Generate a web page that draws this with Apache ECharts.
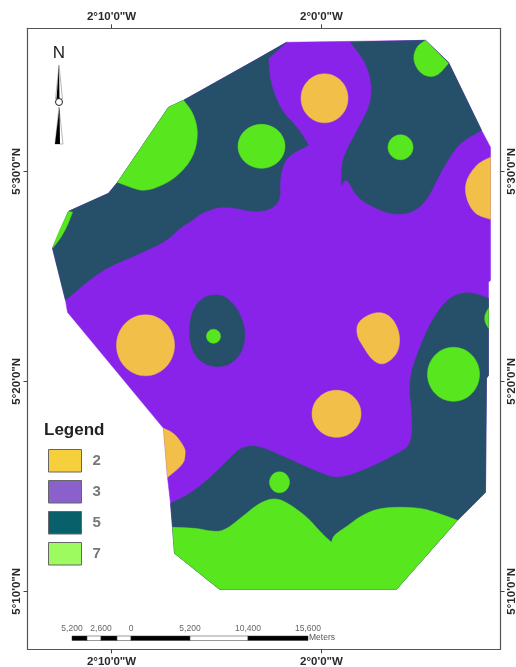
<!DOCTYPE html>
<html>
<head>
<meta charset="utf-8">
<style>html,body{margin:0;padding:0;background:#fff}#c{width:516px;height:667px;filter:blur(0.35px)}</style>
<script src="https://cdn.jsdelivr.net/npm/echarts@6/dist/echarts.min.js"></script>
</head>
<body>
<div id="c"></div>
<script>
// Map units: 21 units = 1 arc-minute, origin at 2°0'0"W, 5°20'0"N (east / north positive)
const lonTicks = [-210, 0];
const lonLabels = ['2°10\'0"W', '2°0\'0"W'];
const latTicks = [-210, 0, 210];
const latLabels = ['5°10\'0"N', '5°20\'0"N', '5°30\'0"N'];
const classNames = ['2', '3', '5', '7'];
const legendColors = ['#F6CF3C', '#8A60CC', '#08606B', '#9DFB60'];
const mapColors = { '2': '#F2BF48', '3': '#8A23EA', '5': '#265069', '7': '#58E61E' };

const class3Polys = [
  [[-35,339],[104,341],[127,319],[160,251],[169,234],[169,101],[167,99],[167,6],[165,3],[164,-111],[136,-139],[75,-208],[-102,-208],[-147,-172],[-149,-146],[-151,-122],[-154,-96],[-158,-47],[-254,69],[-256,81],[-269,133],[-253,170],[-213,188],[-204,199],[-153,274],[-138,281],[-63,323]]
];
const class5Polys = [
  [[-256,81],[-269,133],[-253,170],[-213,188],[-204,199],[-153,274],[-138,281],[-63,323],[-35,339],[-53,323],[-52,301],[-41,271],[-23,253],[-13,236],[-35,225],[-42,204],[-41,177],[-63,168],[-98,176],[-121,168],[-129,161],[-141,154],[-154,141],[-181,128],[-221,111]],
  [[29,339],[45,318],[51,294],[48,274],[34,248],[20,221],[20,196],[25,204],[36,183],[54,173],[70,167],[90,168],[105,180],[120,211],[137,238],[160,251],[127,319],[104,341]],
  [[-151,-122],[-134,-114],[-114,-99],[-94,-79],[-81,-66],[-63,-64],[-30,-79],[-3,-91],[17,-98],[47,-87],[77,-72],[90,-63],[91,-36],[87,1],[97,31],[110,61],[127,84],[147,90],[167,83],[167,6],[165,3],[164,-111],[136,-139],[75,-208],[-102,-208],[-147,-172],[-149,-146]],
  [[-108,87],[-96,85],[-85,74],[-78,59],[-76,44],[-80,28],[-91,17],[-104,14],[-117,17],[-127,26],[-132,41],[-132,59],[-127,75],[-118,84]]
];
const class7Polys = [
  [[-149,-146],[-124,-147],[-111,-150],[-98,-150],[-81,-137],[-63,-122],[-46,-116],[-30,-124],[-13,-137],[0,-152],[10,-161],[12,-154],[27,-144],[40,-134],[60,-126],[97,-126],[117,-132],[136,-139],[75,-208],[-102,-208],[-147,-172]],
  [[-204,199],[-153,274],[-138,281],[-128,268],[-123,248],[-128,224],[-144,205],[-161,195],[-178,190],[-191,194]],
  [[-253,170],[-249,169],[-254,156],[-261,143],[-269,133],[-263,149]],
  [[167,73],[164,68],[163,63],[164,58],[167,53]],
  [[104,341],[127,318],[115,304],[100,306],[91,321],[95,335]]
];
const class7Blobs = [[-60,235,23.5,22],[79,234,12.5,12.5],[-42,-101,10,10.5],[-108,45,7,7],[132,7,26,27]];
const class2Polys = [
  [[169,224],[156,218],[144,201],[144,184],[153,167],[169,162]],
  [[-158,-47],[-147,-52],[-137,-66],[-136,-72],[-138,-83],[-154,-96]],
  [[54,70],[69,66],[78,50],[78,33],[71,22],[60,16],[50,22],[42,34],[35,46],[36,60]]
];
const class2Blobs = [[3,283,23.5,24.5],[-176,36,29,30.5],[15,-32.5,24.5,23.5]];
// vertices that stay as sharp corners when a boundary is drawn: outline corners and notches
const sharpExtra = [[-53,323],[-13,236],[29,339],[20,196],[10,-161],[167,83],[-249,169],[167,73],[167,53],[127,318],[169,224],[169,162]];

const scaleLabels = ['5,200', '2,600', '0', '5,200', '10,400', '15,600'];
const scaleStops = [72, 101, 131, 190, 248, 308];

const sharpSet = new Set([...class3Polys[0], ...sharpExtra].map(q => q.join(',')));
function roundBoundary(points) {
  let ring = points.map(q => ({ q, sharp: sharpSet.has(q.join(',')) }));
  for (let it = 0; it < 2; it++) {
    const out = [];
    ring.forEach((v, i) => {
      if (v.sharp) { out.push(v); return; }
      const a = ring[(i - 1 + ring.length) % ring.length].q, b = ring[(i + 1) % ring.length].q;
      out.push({ q: [v.q[0] + (a[0] - v.q[0]) / 4, v.q[1] + (a[1] - v.q[1]) / 4], sharp: false });
      out.push({ q: [v.q[0] + (b[0] - v.q[0]) / 4, v.q[1] + (b[1] - v.q[1]) / 4], sharp: false });
    });
    ring = out;
  }
  return ring.map(v => v.q);
}
function shapesOf(polys, blobs) {
  return [
    ...(polys || []).map(p => ({ kind: 'poly', p: roundBoundary(p) })),
    ...(blobs || []).map(b => ({ kind: 'blob', b }))
  ];
}
function mapSeries(name, shapes) {
  const fill = mapColors[name];
  return {
    name, type: 'custom', coordinateSystem: 'cartesian2d', xAxisIndex: 0, yAxisIndex: 0,
    silent: true, animation: false,
    data: shapes.map((s, i) => [i]),
    encode: { x: -1, y: -1 },
    renderItem(params, api) {
      const s = shapes[params.dataIndex];
      const style = { fill, stroke: fill, lineWidth: 0.5 };
      if (s.kind === 'blob') {
        const c = api.coord([s.b[0], s.b[1]]);
        const sz = api.size([s.b[2], s.b[3]]);
        return { type: 'ellipse', shape: { cx: c[0], cy: c[1], rx: sz[0], ry: sz[1] }, style };
      }
      return { type: 'polygon', shape: { points: s.p.map(q => api.coord(q)) }, style };
    }
  };
}
function lonAxis(position, margin) {
  return {
    type: 'value', position, min: -294, max: 179, scale: false,
    splitLine: { show: false },
    axisLine: { show: true, onZero: false, lineStyle: { color: '#555', width: 1.2 } },
    axisTick: { show: true, length: 4, customValues: lonTicks, lineStyle: { color: '#444' } },
    axisLabel: {
      show: true, customValues: lonTicks, margin,
      formatter: v => lonLabels[lonTicks.indexOf(v)],
      fontFamily: 'Liberation Sans', fontWeight: 'bold', fontSize: 11.5, color: '#2a2a2a'
    }
  };
}
function latAxis(position, margin) {
  return {
    type: 'value', position, min: -268, max: 353, scale: false,
    splitLine: { show: false },
    axisLine: { show: true, onZero: false, lineStyle: { color: '#555', width: 1.2 } },
    axisTick: { show: true, length: 4, customValues: latTicks, lineStyle: { color: '#444' } },
    axisLabel: {
      show: true, customValues: latTicks, rotate: 90, margin,
      formatter: v => latLabels[latTicks.indexOf(v)],
      fontFamily: 'Liberation Sans', fontWeight: 'bold', fontSize: 11.5, color: '#2a2a2a'
    }
  };
}

const scaleBarEls = [];
const segEdges = [72, 87, 101, 117, 131, 190, 248, 308];
for (let i = 0; i < segEdges.length - 1; i++) {
  scaleBarEls.push({
    type: 'rect', silent: true,
    shape: { x: segEdges[i], y: 636, width: segEdges[i + 1] - segEdges[i], height: 4.5 },
    style: { fill: i % 2 === 0 ? '#000' : '#fff', stroke: '#333', lineWidth: 0.5 }
  });
}
scaleLabels.forEach((t, i) => scaleBarEls.push({
  type: 'text', silent: true, x: scaleStops[i], y: 629,
  style: { text: t, font: '8.5px "Liberation Sans"', fill: '#666', align: 'center', verticalAlign: 'middle' }
}));
scaleBarEls.push({
  type: 'text', silent: true, x: 309, y: 638,
  style: { text: 'Meters', font: '8.5px "Liberation Sans"', fill: '#555', align: 'left', verticalAlign: 'middle' }
});

const northEls = [
  { type: 'text', silent: true, x: 59, y: 53, style: { text: 'N', font: '17px "Liberation Sans"', fill: '#222', align: 'center', verticalAlign: 'middle' } },
  { type: 'polygon', silent: true, shape: { points: [[59, 65], [62.5, 99], [55.5, 99]] }, style: { fill: '#fff', stroke: '#888', lineWidth: 0.6 } },
  { type: 'polygon', silent: true, shape: { points: [[59, 65], [59.5, 99], [56.5, 99]] }, style: { fill: '#000' } },
  { type: 'circle', silent: true, shape: { cx: 59, cy: 102, r: 3.5 }, style: { fill: '#fff', stroke: '#222', lineWidth: 1 } },
  { type: 'polygon', silent: true, shape: { points: [[59, 107], [63, 144], [55, 144]] }, style: { fill: '#fff', stroke: '#888', lineWidth: 0.6 } },
  { type: 'polygon', silent: true, shape: { points: [[59.5, 107], [60, 144], [55, 144]] }, style: { fill: '#000' } }
];

const chart = echarts.init(document.getElementById('c'), null, { renderer: 'canvas', width: 516, height: 667 });
chart.setOption({
  backgroundColor: '#fff',
  animation: false,
  grid: { left: 27.5, top: 28.3, width: 473, height: 621, containLabel: false, outerBoundsMode: 'none' },
  xAxis: [lonAxis('bottom', 7), lonAxis('top', 5)],
  yAxis: [latAxis('left', 5), latAxis('right', 5)],
  title: {
    text: 'Legend', left: 44, top: 422, padding: 0,
    textStyle: { fontFamily: 'Liberation Sans', fontWeight: 'bold', fontSize: 17, color: '#222' }
  },
  legend: {
    left: 48, top: 449, orient: 'vertical', itemWidth: 33, itemHeight: 22.5, itemGap: 7.5, padding: 0,
    selectedMode: false, icon: 'rect',
    textStyle: { fontFamily: 'Liberation Sans', fontWeight: 'bold', fontSize: 15, color: '#777', padding: [0, 0, 0, 6] },
    data: classNames.map((n, i) => ({
      name: n, icon: 'rect',
      itemStyle: { color: legendColors[i], borderColor: '#666', borderWidth: 1 }
    }))
  },
  series: [
    mapSeries('3', shapesOf(class3Polys)),
    mapSeries('5', shapesOf(class5Polys)),
    mapSeries('7', shapesOf(class7Polys, class7Blobs)),
    mapSeries('2', shapesOf(class2Polys, class2Blobs))
  ],
  graphic: { elements: [...scaleBarEls, ...northEls] }
});
</script>
</body>
</html>
